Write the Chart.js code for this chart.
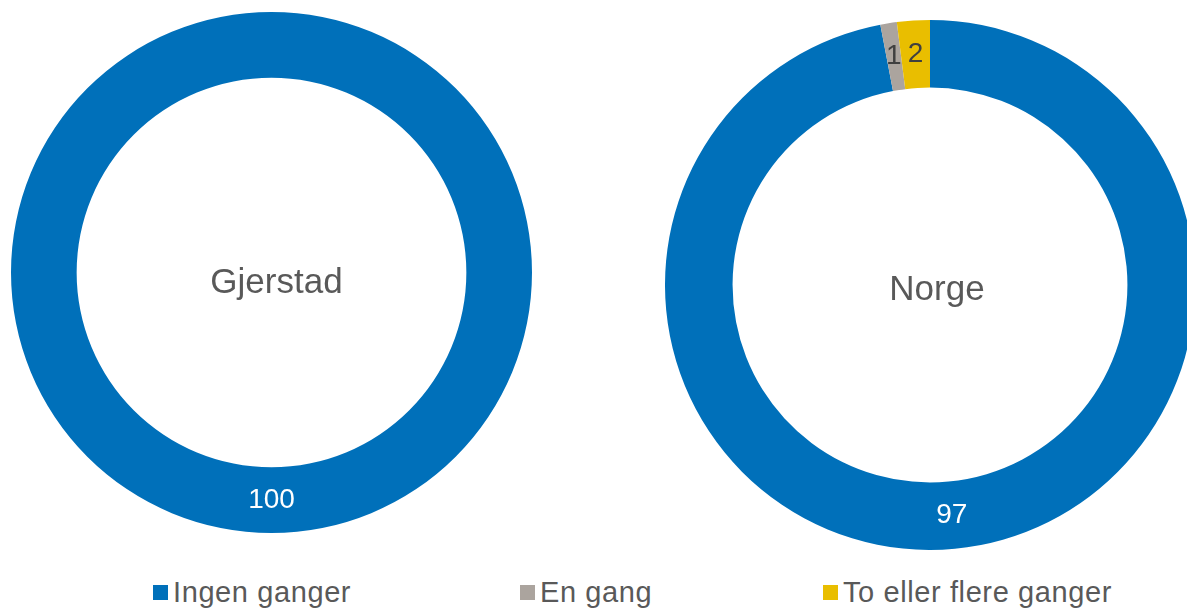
<!DOCTYPE html>
<html lang="no">
<head>
<meta charset="UTF-8">
<title>Gjerstad / Norge</title>
<script src="https://cdn.jsdelivr.net/npm/chart.js"></script>
<style>
  html, body { margin: 0; padding: 0; background: #fff; overflow: hidden; width: 1187px; height: 608px; }
  .wrap { position: absolute; }
  #legend { position: absolute; top: 576px; left: 0; width: 1187px; height: 32px;
            font-family: "Liberation Sans", Arial, sans-serif; font-size: 29px; letter-spacing: 0.6px; color: #595959; }
  .item { position: absolute; top: 0; white-space: nowrap; line-height: 32px; }
  .box { display: inline-block; width: 15px; height: 15px; margin-right: 5px; vertical-align: 2px; }
</style>
</head>
<body>
<div class="wrap" style="left:11px; top:12px;"><canvas id="gjerstad" width="521" height="521"></canvas></div>
<div class="wrap" style="left:665px; top:20px;"><canvas id="norge" width="530" height="530"></canvas></div>
<div id="legend"></div>

<script>
const categories = ['Ingen ganger', 'En gang', 'To eller flere ganger'];
const gjerstadValues = [100, 0, 0];
const norgeValues = [97, 1, 2];
const colors = ['#0070BA', '#ABA49E', '#E9BE00'];
const labelColors = ['#FFFFFF', '#404040', '#404040'];
const legendX = [153, 520, 823];

// verdier og midttekst tegnes selv (ingen datalabels-plugin tilgjengelig)
const donutText = {
  id: 'donutText',
  afterDatasetsDraw(chart, args, opts) {
    const ctx = chart.ctx;
    const meta = chart.getDatasetMeta(0);
    const values = chart.data.datasets[0].data;
    ctx.save();
    ctx.textAlign = 'center';
    ctx.textBaseline = 'middle';
    ctx.font = '28px "Liberation Sans", Arial, sans-serif';
    meta.data.forEach((arc, i) => {
      if (!values[i]) return;
      const p = arc.tooltipPosition();
      ctx.fillStyle = labelColors[i];
      ctx.fillText(String(values[i]), p.x, p.y);
    });
    const a = chart.chartArea;
    ctx.fillStyle = '#595959';
    ctx.font = '35px "Liberation Sans", Arial, sans-serif';
    ctx.fillText(opts.title, (a.left + a.right) / 2 + opts.dx, (a.top + a.bottom) / 2 + opts.dy);
    ctx.restore();
  }
};

function makeDonut(id, values, title, cutout, dx, dy) {
  return new Chart(document.getElementById(id), {
    type: 'doughnut',
    data: {
      labels: categories,
      datasets: [{ data: values, backgroundColor: colors, borderWidth: 0 }]
    },
    options: {
      responsive: false,
      animation: false,
      cutout: cutout,
      layout: { padding: 0 },
      plugins: {
        legend: { display: false },
        tooltip: { enabled: false },
        donutText: { title: title, dx: dx, dy: dy }
      }
    },
    plugins: [donutText]
  });
}

makeDonut('gjerstad', gjerstadValues, 'Gjerstad', '74.8%', 5, 11);
makeDonut('norge', norgeValues, 'Norge', '74.5%', 7, 5);

const legend = document.getElementById('legend');
categories.forEach((c, i) => {
  const d = document.createElement('div');
  d.className = 'item';
  d.style.left = legendX[i] + 'px';
  d.innerHTML = '<span class="box" style="background:' + colors[i] + '"></span>' + c;
  legend.appendChild(d);
});
</script>
</body>
</html>
